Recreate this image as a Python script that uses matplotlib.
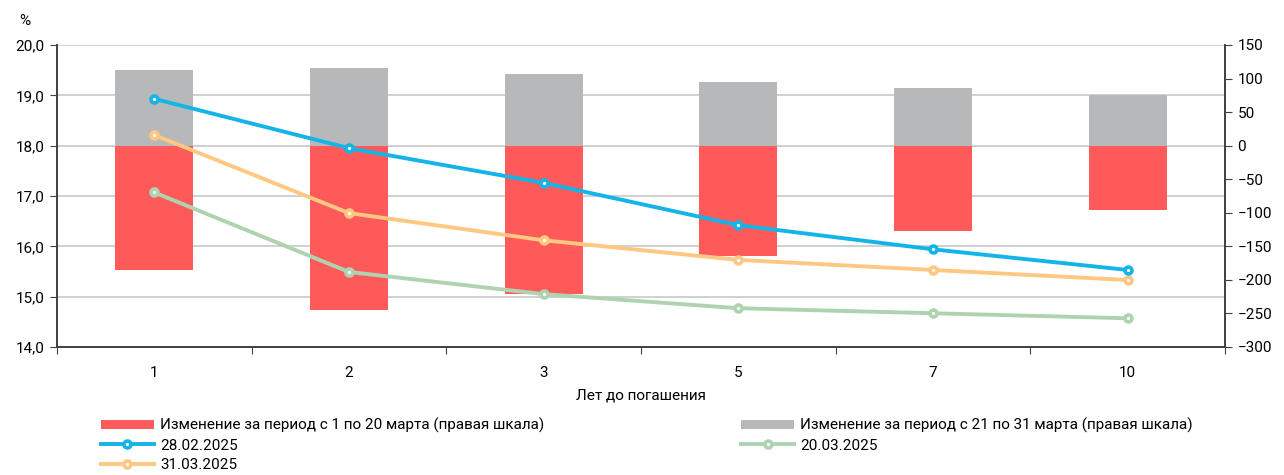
import matplotlib
matplotlib.use("Agg")
import matplotlib.pyplot as plt
from matplotlib.ticker import FuncFormatter

plt.rcParams['font.family'] = ['Roboto', 'DejaVu Sans']

# данные
maturities = ["1", "2", "3", "5", "7", "10"]
yld_2802 = [18.93, 17.95, 17.26, 16.42, 15.94, 15.53]
yld_2003 = [17.07, 15.49, 15.05, 14.77, 14.67, 14.57]
yld_3103 = [18.21, 16.66, 16.12, 15.73, 15.53, 15.33]
chg_1_20 = [-185, -245, -221, -164, -127, -96]
chg_21_31 = [113, 116, 107, 95, 86, 75]

RED = "#FF5A5A"
GREY = "#B7B8BA"
BLUE = "#14B4E8"
GREEN = "#AFD3B1"
ORANGE = "#FFC882"
AXC = "#404040"

fig = plt.figure(figsize=(12.84, 4.75), dpi=100)
ax = fig.add_axes([0.0444, 0.2695, 0.9097, 0.6358])
ax2 = ax.twinx()
ax.set_zorder(ax2.get_zorder() + 1)
ax.patch.set_visible(False)

x = list(range(len(maturities)))
left_lim = (14.0, 20.0)
right_lim = (-300, 150)

# сетка по левой шкале, под столбцами
for v in [15, 16, 17, 18, 19, 20]:
    v2 = right_lim[0] + (v - left_lim[0]) * (right_lim[1] - right_lim[0]) / (left_lim[1] - left_lim[0])
    ax2.axhline(v2, color="#C8C8C8", lw=1.2, zorder=0)

b1 = ax2.bar(x, chg_1_20, width=0.4, color=RED, zorder=2,
             label="Изменение за период с 1 по 20 марта (правая шкала)")
b2 = ax2.bar(x, chg_21_31, width=0.4, color=GREY, zorder=2,
             label="Изменение за период с 21 по 31 марта (правая шкала)")

mk = dict(marker="o", markersize=5, markerfacecolor="white", markeredgewidth=2.6, lw=2.8)
l1, = ax.plot(x, yld_2802, color=BLUE, markeredgecolor=BLUE, label="28.02.2025", zorder=5, **mk)
l2, = ax.plot(x, yld_2003, color=GREEN, markeredgecolor=GREEN, label="20.03.2025", zorder=3, **mk)
l3, = ax.plot(x, yld_3103, color=ORANGE, markeredgecolor=ORANGE, label="31.03.2025", zorder=4, **mk)

ax.set_xlim(-0.5, len(x) - 0.5)
ax.set_ylim(*left_lim)
ax2.set_ylim(*right_lim)
ax.set_yticks([14, 15, 16, 17, 18, 19, 20])
ax2.set_yticks(range(-300, 151, 50))
ax.yaxis.set_major_formatter(FuncFormatter(lambda v, p: f"{v:.1f}".replace(".", ",")))

ax.set_xticks([i - 0.5 for i in range(len(x) + 1)])
ax.set_xticklabels([])
ax.set_xticks(x, minor=True)
ax.set_xticklabels(maturities, minor=True)
ax.tick_params(axis="x", which="minor", length=0, labelsize=11, pad=14)
ax.tick_params(axis="x", which="major", length=5, color=AXC)
ax.tick_params(axis="y", length=5, color=AXC, labelsize=11, pad=4)
ax2.tick_params(axis="y", length=5, color=AXC, labelsize=11, pad=4)

for a in (ax, ax2):
    a.spines["top"].set_visible(False)
    for s in ("left", "right", "bottom"):
        a.spines[s].set_color(AXC)
        a.spines[s].set_linewidth(1.2)

ax.set_xlabel("Лет до погашения", fontsize=11, labelpad=6)
fig.text(0.0148, 0.955, "%", fontsize=11, ha="left", va="center")

handles = [b1, l1, l3, b2, l2]
leg = fig.legend(handles, [h.get_label() for h in handles], ncol=2,
                 loc="lower left", bbox_to_anchor=(0.068, -0.0225), frameon=False,
                 fontsize=11, handlelength=3.45, handleheight=0.6,
                 columnspacing=12.9, labelspacing=0.35, handletextpad=0.4)

fig.savefig("out.png", dpi=100)
